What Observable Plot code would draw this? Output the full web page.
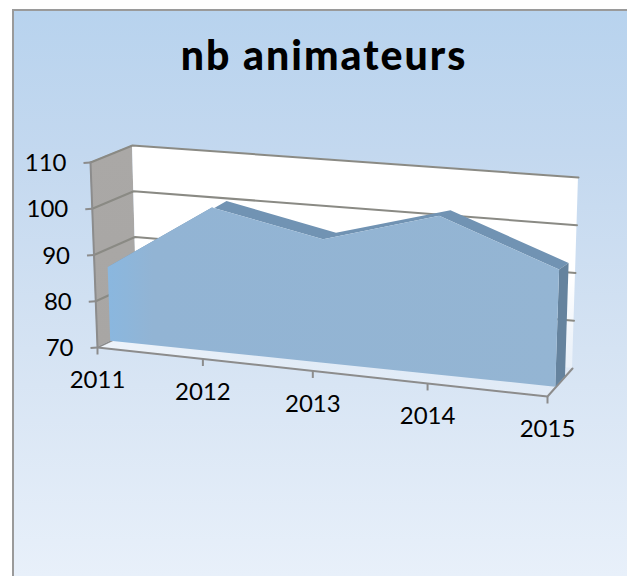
<!DOCTYPE html>
<html>
<head>
<meta charset="utf-8">
<script src="https://cdn.jsdelivr.net/npm/d3@7"></script>
<script src="https://cdn.jsdelivr.net/npm/@observablehq/plot@0.6"></script>
<style>
html,body{margin:0;padding:0;background:#fff;width:627px;height:576px;overflow:hidden}
#panel{position:absolute;left:12px;top:9px;width:615px;height:567px;box-sizing:border-box;border-left:2px solid #9a9a9a;border-top:2px solid #9a9a9a;
background:linear-gradient(to bottom,#b8d3ee 0%,#c3d8ef 25%,#d5e3f3 60%,#e8f0fa 100%)}
#chart{position:absolute;left:0;top:0}
svg{background:transparent!important}
.chart-title text{letter-spacing:2px}
</style>
</head>
<body>
<div id="panel"></div>
<div id="chart"></div>
<script>
const title = "nb animateurs";
const years = [2011, 2012, 2013, 2014, 2015];
const animateurs = [86, 100.5, 95.5, 102, 93];
const valueTicks = [70, 80, 90, 100, 110];

// 3-D box → screen projection of the category/value/depth axes
const box = {
  fl: [[97, 347], [90, 162]],
  fr: [[547, 396], [554, 186]],
  bl: [[137, 328], [132, 145]],
  br: [[572, 368], [578, 177]]
};
const perspective = 1.09, faceDepth = 0.33, rearDepth = 0.72, vMin = 70, vMax = 110;
const mix = (a, b, t) => a + (b - a) * t;
function project(year, value, depth) {
  const u = (year - years[0]) / (years[years.length - 1] - years[0]);
  const t = u / (u + (1 - u) * perspective);
  const v = (value - vMin) / (vMax - vMin);
  const c = (k) => mix(
    mix(mix(box.fl[0][k], box.fr[0][k], t), mix(box.fl[1][k], box.fr[1][k], t), v),
    mix(mix(box.bl[0][k], box.br[0][k], t), mix(box.bl[1][k], box.br[1][k], t), v),
    depth);
  return [c(0), c(1)];
}
const X = (y, v, d) => project(y, v, d)[0];
const Y = (y, v, d) => project(y, v, d)[1];
const y0 = years[0], y1 = years[years.length - 1];
const rows = years.map((year, i) => ({year, value: animateurs[i]}));

const seg = (pts, o) => Plot.line(pts, {x: (p) => p[0], y: (p) => p[1], stroke: "#8c8c8c", strokeWidth: 2, ...o});
const quad = (a, b, o) => Plot.area([0, 1], {
  x1: (i) => (i ? a[1] : a[0])[0], y1: (i) => (i ? a[1] : a[0])[1],
  x2: (i) => (i ? b[1] : b[0])[0], y2: (i) => (i ? b[1] : b[0])[1], ...o});

const defs = () => {
  const d = d3.create("svg:defs");
  const grad = (id, x2, y2, stops) => {
    const g = d.append("linearGradient").attr("id", id).attr("x1", 0).attr("y1", 0).attr("x2", x2).attr("y2", y2);
    stops.forEach(([o, c, a]) => g.append("stop").attr("offset", o).attr("stop-color", c).attr("stop-opacity", a ?? 1));
  };
  grad("wallL", 0, 1, [[0, "#aaa8a6"], [1, "#a8a6a4"]]);
  grad("wallB", 0, 1, [[0, "#ffffff"], [0.6, "#ffffff"], [1, "#ffffff", 0.45]]);
  grad("floor", 1, 0, [[0, "#ffffff", 0.6], [0.4, "#ffffff", 0.3], [1, "#ffffff", 0.2]]);
  grad("face", 1, 0, [[0, "#8ab7df"], [0.04, "#8db6db"], [0.1, "#92b4d4"], [1, "#94b5d3"]]);
  return d.node();
};

const plot = Plot.plot({
  width: 627, height: 576,
  margin: 0,
  x: {type: "identity", axis: null},
  y: {type: "identity", axis: null},
  style: {background: "transparent"},
  marks: [
    defs,
    Plot.text([title], {
      frameAnchor: "top", dx: 10, dy: 40, text: (d) => d, className: "chart-title",
      fontFamily: "Lato", fontWeight: 900, fontSize: 41, fill: "#000"
    }),
    // walls and floor
    quad([project(y0, vMin, 0), project(y0, vMin, 1)], [project(y0, vMax, 0), project(y0, vMax, 1)], {fill: "url(#wallL)"}),
    quad([project(y0, vMin, 1), project(y1, vMin, 1)], [project(y0, vMax, 1), project(y1, vMax, 1)], {fill: "url(#wallB)"}),
    quad([project(y0, vMin, 0), project(y1, vMin, 0)], [project(y0, vMin, 1), project(y1, vMin, 1)], {fill: "url(#floor)"}),
    // gridlines
    ...valueTicks.filter((v) => v > vMin).map((v) =>
      seg([project(y0, v, 0), project(y0, v, 1), project(y1, v, 1)], {stroke: "#8a8a84"})),
    // axis lines
    seg([project(y0, vMax, 0), project(y0, vMin, 0), project(y1, vMin, 0), project(y1, vMin, 1)], {}),
    seg([project(y0, vMin, 0), project(y0, vMin, 1)], {strokeWidth: 1.5}),
    // axis ticks
    Plot.link(valueTicks, {
      x1: (v) => X(y0, v, 0) - 7, y1: (v) => Y(y0, v, 0) + 0.5,
      x2: (v) => X(y0, v, 0), y2: (v) => Y(y0, v, 0), stroke: "#8c8c8c", strokeWidth: 2
    }),
    Plot.link(years, {
      x1: (y) => X(y, vMin, 0), y1: (y) => Y(y, vMin, 0),
      x2: (y) => X(y, vMin, 0), y2: (y) => Y(y, vMin, 0) + 7, stroke: "#8c8c8c", strokeWidth: 2
    }),
    // area: rear strip, end face, front face
    Plot.area(rows, {
      x1: (d) => X(d.year, d.value, faceDepth), y1: (d) => Y(d.year, d.value, faceDepth),
      x2: (d) => X(d.year, d.value, rearDepth), y2: (d) => Y(d.year, d.value, rearDepth),
      fill: "#7193b3"
    }),
    quad(
      [project(y1, vMin, faceDepth), project(y1, animateurs[4], faceDepth)],
      [project(y1, vMin, rearDepth), project(y1, animateurs[4], rearDepth)],
      {fill: "#65839e"}
    ),
    Plot.area(rows, {
      x1: (d) => X(d.year, vMin, faceDepth), y1: (d) => Y(d.year, vMin, faceDepth),
      x2: (d) => X(d.year, d.value, faceDepth), y2: (d) => Y(d.year, d.value, faceDepth),
      fill: "url(#face)"
    }),
    // tick labels
    Plot.text(valueTicks, {
      x: (v) => X(y0, v, 0) - 24, y: (v) => Y(y0, v, 0) + 1, text: (v) => String(v),
      textAnchor: "end", fontFamily: "Lato", fontSize: 24, fill: "#000"
    }),
    Plot.text(years, {
      x: (y) => X(y, vMin, 0), y: (y) => Y(y, vMin, 0) + 33, text: (y) => String(y),
      fontFamily: "Lato", fontSize: 24, fill: "#000"
    })
  ]
});
document.getElementById("chart").appendChild(plot);
</script>
</body>
</html>
